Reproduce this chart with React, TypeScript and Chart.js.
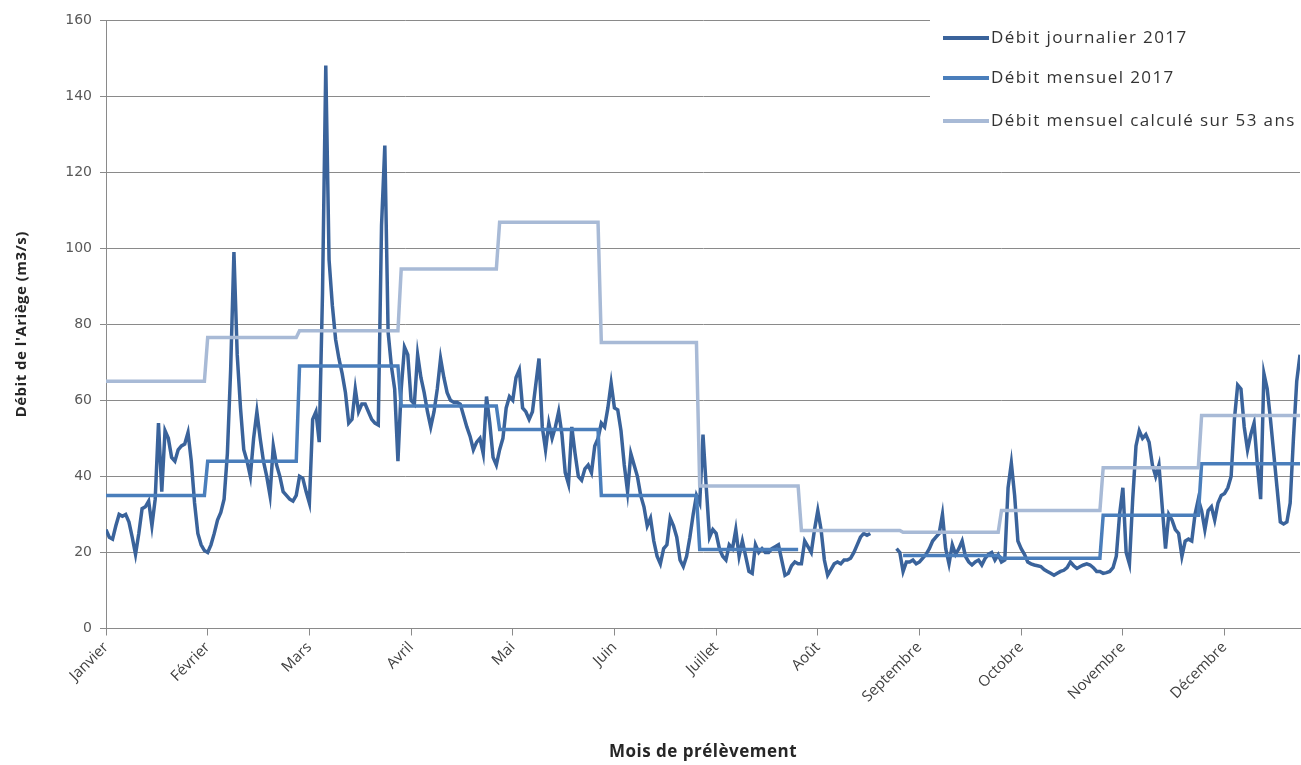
import React, { useEffect, useRef } from 'react';
import { Chart, registerables } from 'chart.js';

Chart.register(...registerables);

// ---- Data ----
const MONTHS = ['Janvier', 'Février', 'Mars', 'Avril', 'Mai', 'Juin', 'Juillet', 'Août', 'Septembre', 'Octobre', 'Novembre', 'Décembre'];
const TICK_EVERY_DAYS = 31;
const Y_MIN = 0;
const Y_MAX = 160;
const Y_STEP = 20;

const dailyJan = [26, 24, 23.5, 27, 30, 29.5, 30, 28, 24, 19.5, 25, 31.5, 32, 33.5, 27, 34, 54, 36, 52, 50, 45, 44, 47, 48, 48.5, 51.5, 44, 33, 25, 22, 20.5];
const dailyFeb = [20, 22, 25, 28.5, 30.5, 34, 46, 68, 99, 72, 58, 47, 44, 40, 50, 57, 50, 44, 40, 35, 48, 43, 40, 36, 35, 34, 33.5, 35];
const dailyMar = [40, 39.5, 36, 33, 55, 57, 49, 88, 148, 97, 85, 76, 71, 67, 62, 54, 55, 63, 57, 59, 59, 57, 55, 54, 53.5, 106, 127, 78, 69, 63, 44];
const dailyApr = [63, 74, 72, 60, 59, 72, 66, 62, 57, 53, 57, 63, 71, 66, 62, 60, 59.5, 59.5, 59, 56, 53, 50.5, 47, 49, 50, 46, 61, 54, 45, 43];
const dailyMay = [47, 50, 58, 61, 60, 66, 68, 58, 57, 55, 57, 64, 71, 53, 47, 54, 50, 53, 57, 51, 41, 38, 53, 46, 40, 39, 42, 43, 41, 48, 50];
const dailyJun = [54, 53, 58, 64.5, 58, 57.5, 52, 43, 36, 46, 43, 40, 35, 32, 27, 29, 23, 19, 17, 21, 22, 29, 27, 24, 18, 16.3, 19, 24, 30, 35];
const dailyJul = [33, 51, 37, 24, 26, 25, 21, 19, 18, 22, 21, 26, 19, 23, 19, 15, 14.5, 22, 20, 21, 20, 20, 21, 21.5, 22, 18, 14, 14.5, 16.5, 17.5, 17];
const dailyAug = [17, 23, 21.5, 20, 26, 31, 26, 18, 14, 15.5, 17, 17.5, 17, 18, 18, 18.5, 20, 22, 24, 25, 24.5, 25, null, null, null, null, null, null, null, 21, 20];
const dailySep = [15, 17.5, 17.5, 18, 17, 17.5, 18.5, 19.5, 21, 23, 24, 25, 30, 21, 17, 22, 19.5, 21, 23, 19, 17.5, 16.7, 17.5, 18, 16.7, 18.4, 19.5, 20, 18, 19.4];
const dailyOct = [17.5, 18, 37, 43.5, 35, 23, 21, 19.5, 17.5, 17, 16.7, 16.5, 16.3, 15.5, 15, 14.5, 14, 14.5, 15, 15.3, 16, 17.5, 16.5, 15.8, 16.3, 16.7, 17, 16.7, 16, 15, 15];
const dailyNov = [14.5, 14.7, 15, 16, 19, 30, 37, 20, 17, 34, 48, 52, 50, 51, 49, 43, 40, 43, 32, 21, 30, 28.5, 26, 25, 19, 23, 23.5, 23, 30, 34];
const dailyDec = [31, 26, 31, 32, 28.5, 33, 35, 35.5, 37, 40, 55, 64, 63, 53, 47, 51, 54, 43, 34, 67, 63, 55, 46, 37, 28, 27.5, 28, 33, 50, 65, 72];

const monthly2017 = [35, 44, 69, 58.5, 52.3, 35, 20.8, null, 19.2, 18.5, 29.8, 43.3];
const monthly53ans = [65, 76.5, 78.3, 94.5, 106.8, 75.2, 37.5, 25.8, 25.3, 31, 42.3, 56];

const LABEL_DAILY = 'Débit journalier 2017';
const LABEL_MONTHLY = 'Débit mensuel 2017';
const LABEL_LONG = 'Débit mensuel calculé sur 53 ans';
const Y_TITLE = "Débit de l'Ariège (m3/s)";
const X_TITLE = 'Mois de prélèvement';

// ---- Styles ----
const COLOR_DAILY = '#3a639b';
const COLOR_MONTHLY = '#4a7ebb';
const COLOR_LONG = '#a8bad6';
const GRID = '#8a8a8a';

const dailyMonths = [dailyJan, dailyFeb, dailyMar, dailyApr, dailyMay, dailyJun, dailyJul, dailyAug, dailySep, dailyOct, dailyNov, dailyDec];
const daily: (number | null)[] = ([] as (number | null)[]).concat(...dailyMonths);
const expand = (vals: (number | null)[]) =>
  ([] as (number | null)[]).concat(...dailyMonths.map((m, i) => m.map(() => vals[i])));
const monthlyDaily = expand(monthly2017);
const longDaily = expand(monthly53ans);
const dayLabels = daily.map((_, i) => i);

const overlayPlugin = {
  id: 'overlay',
  afterDraw(chart: any) {
    const ctx = chart.ctx as any;
    const area = chart.chartArea;
    ctx.save();
    // legend box
    ctx.fillStyle = '#ffffff';
    ctx.fillRect(930, 8, 371, 134);
    const items = [
      { label: LABEL_DAILY, color: COLOR_DAILY, y: 38 },
      { label: LABEL_MONTHLY, color: COLOR_MONTHLY, y: 78 },
      { label: LABEL_LONG, color: COLOR_LONG, y: 121 },
    ];
    ctx.lineWidth = 4;
    ctx.font = '17px "Open Sans"';
    ctx.letterSpacing = '1.4px';
    ctx.textBaseline = 'middle';
    ctx.textAlign = 'left';
    items.forEach((it) => {
      ctx.strokeStyle = it.color;
      ctx.beginPath();
      ctx.moveTo(943, it.y);
      ctx.lineTo(989, it.y);
      ctx.stroke();
      ctx.fillStyle = '#333333';
      ctx.fillText(it.label, 991, it.y);
    });
    ctx.letterSpacing = '0px';
    // y title
    ctx.save();
    ctx.translate(22, (area.top + area.bottom) / 2);
    ctx.rotate(-Math.PI / 2);
    ctx.font = 'bold 15px "Open Sans"';
    ctx.letterSpacing = '0.5px';
    ctx.fillStyle = '#262626';
    ctx.textAlign = 'center';
    ctx.textBaseline = 'middle';
    ctx.fillText(Y_TITLE, 0, 0);
    ctx.restore();
    // x title
    ctx.font = 'bold 17px "Open Sans"';
    ctx.letterSpacing = '0.5px';
    ctx.fillStyle = '#262626';
    ctx.textAlign = 'center';
    ctx.textBaseline = 'middle';
    ctx.fillText(X_TITLE, (area.left + area.right) / 2, 752);
    ctx.letterSpacing = '0px';
    ctx.restore();
  },
};

export default function App() {
  const ref = useRef<HTMLCanvasElement | null>(null);
  useEffect(() => {
    if (!ref.current) return;
    const chart = new Chart(ref.current, {
      type: 'line',
      data: {
        labels: dayLabels,
        datasets: [
          {
            label: LABEL_DAILY,
            data: daily,
            borderColor: COLOR_DAILY,
            borderWidth: 3.5,
            pointRadius: 0,
            spanGaps: false,
            tension: 0,
            order: 3,
          },
          {
            label: LABEL_MONTHLY,
            data: monthlyDaily,
            borderColor: COLOR_MONTHLY,
            borderWidth: 3.5,
            pointRadius: 0,
            spanGaps: false,
            tension: 0,
            order: 2,
          },
          {
            label: LABEL_LONG,
            data: longDaily,
            borderColor: COLOR_LONG,
            borderWidth: 3.5,
            pointRadius: 0,
            tension: 0,
            order: 1,
          },
        ],
      },
      options: {
        animation: false,
        responsive: false,
        devicePixelRatio: 1,
        layout: { padding: { top: 20, right: 1, left: 0, bottom: 0 } },
        plugins: { legend: { display: false }, tooltip: { enabled: false } },
        scales: {
          x: {
            type: 'linear',
            min: 0,
            max: daily.length - 1,
            afterFit: (s: any) => {
              s.height = 136.5;
            },
            afterBuildTicks: (s: any) => {
              s.ticks = MONTHS.map((_, i) => ({ value: i * TICK_EVERY_DAYS }));
            },
            ticks: {
              autoSkip: false,
              minRotation: 45,
              maxRotation: 45,
              padding: 3,
              color: '#404040',
              font: { family: '"Open Sans"', size: 15 },
              callback: (v: any) => MONTHS[Math.round(Number(v) / TICK_EVERY_DAYS)] ?? '',
            },
            grid: { drawOnChartArea: false, drawTicks: true, tickLength: 7, color: GRID },
            border: { display: true, color: GRID, width: 1 },
          },
          y: {
            min: Y_MIN,
            max: Y_MAX,
            afterFit: (s: any) => {
              s.width = 106;
            },
            ticks: {
              stepSize: Y_STEP,
              padding: 8,
              color: '#595959',
              font: { family: '"DejaVu Sans"', size: 14 },
            },
            grid: { color: GRID, tickLength: 6, lineWidth: 1 },
            border: { display: true, color: GRID, width: 1 },
          },
        },
      },
      plugins: [overlayPlugin],
    } as any);
    return () => chart.destroy();
  }, []);
  return (
    <div style={{ position: 'absolute', left: 0, top: 0, width: 1301, height: 765, background: '#fff' }}>
      <canvas ref={ref} width={1301} height={765} style={{ display: 'block' }} />
    </div>
  );
}
